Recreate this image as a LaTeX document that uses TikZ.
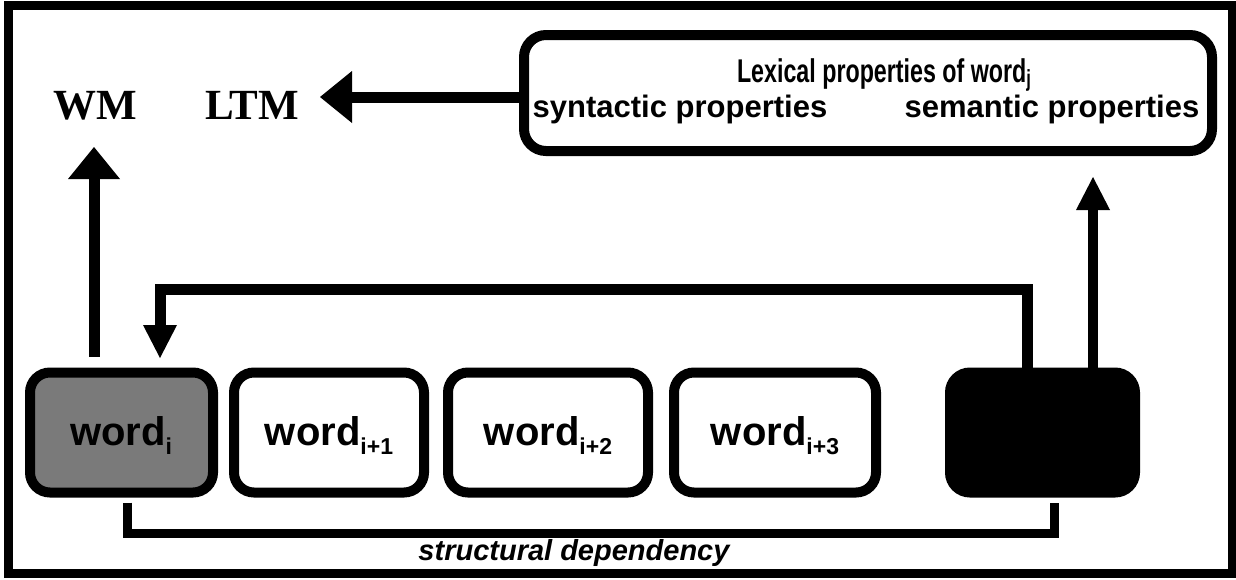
\documentclass[tikz,border=0pt]{standalone}
\usepackage{fontspec}
\usepackage{graphicx}
\setmainfont{Liberation Serif}
\setsansfont{Liberation Sans}
\usetikzlibrary{arrows.meta}
% lowered index set in a smaller size
\newcommand{\idx}[3]{\raisebox{-#2}{\fontsize{#3}{#3}\selectfont #1}}
\begin{document}
\begin{tikzpicture}[x=1pt,y=-1pt,
  frame/.style={line width=9pt},
  wordbox/.style={draw, line width=10pt, rounded corners=20pt,
    minimum height=120pt, inner sep=0pt},
  wordtext/.style={font=\sffamily\bfseries\fontsize{40}{40}\selectfont,
    anchor=base, inner sep=0pt},
  lextext/.style={font=\sffamily\bfseries\fontsize{31}{31}\selectfont,
    anchor=base, inner sep=0pt},
  memtext/.style={font=\rmfamily\bfseries\fontsize{43}{43}\selectfont,
    anchor=base, inner sep=0pt},
  shaft/.style={line width=11pt, line join=miter},
  bigtip/.style={-{Triangle[length=32pt,width=52pt,line width=0pt]}},
  smalltip/.style={-{Triangle[length=33pt,width=34pt,line width=0pt]}},
  bracket/.style={line width=9pt, line join=miter}]

\useasboundingbox (0,0) rectangle (1236,579);
\draw[frame] (8,5) rectangle (1232,573);

% memory stores
\node[memtext] (wm) at (95,119) {WM};
\node[memtext] (ltm) at (252,119) {LTM};

% lexical entry
\node[draw, line width=10pt, rounded corners=22pt, minimum width=688pt,
  minimum height=116pt, inner sep=0pt] (lex) at (868,93) {};
\node[lextext] (lexhead) at (884,82)
  {\scalebox{0.75}[1.06]{Lexical properties of word\idx{j}{4pt}{22}}};
\node[lextext] (syn) at (680,117) {syntactic properties};
\node[lextext] (sem) at (1052,117) {semantic properties};

% word sequence
\node[wordbox, fill=black!52, minimum width=183pt] (w0) at (121.5,432.5) {};
\node[wordbox, minimum width=190pt] (w1) at (329,432.5) {};
\node[wordbox, minimum width=200pt] (w2) at (548,432.5) {};
\node[wordbox, minimum width=202pt] (w3) at (775,432.5) {};
\node[wordbox, fill=black, minimum width=185pt] (blk) at (1042.5,432.5) {};
\node[wordtext] (t0) at (121,445) {word\idx{i}{9pt}{23}};
\node[wordtext] (t1) at (329,445) {word\idx{i+1}{9pt}{23}};
\node[wordtext] (t2) at (548,445) {word\idx{i+2}{9pt}{23}};
\node[wordtext] (t3) at (775,445) {word\idx{i+3}{9pt}{23}};

% connectors
\coordinate (ltmtip) at (320,97);
\draw[shaft, bigtip] (lex.west |- ltmtip) -- (ltmtip);

\coordinate (wmtip) at (94,147);
\draw[shaft, bigtip, shorten <=11pt] (w0.north -| wmtip) -- (wmtip);

\coordinate (lextip) at (1093,177);
\draw[shaft, smalltip, line width=10pt] (blk.north -| lextip) -- (lextip);

\coordinate (fbr) at (1027,289);
\coordinate (fbl) at (160,289);
\coordinate (fbtip) at (160,358);
\draw[shaft, smalltip] (blk.north -| fbr) -- (fbr) -- (fbl) -- (fbtip);

\coordinate (brl) at (127,533);
\coordinate (brr) at (1054,533);
\draw[bracket, shorten <=5pt, shorten >=5pt]
  (w0.south -| brl) -- (brl) -- (brr) -- (blk.south -| brr);
\node[font=\sffamily\bfseries\itshape\fontsize{29}{29}\selectfont,
  anchor=base, inner sep=0pt] (dep) at (574,560) {structural dependency};
\end{tikzpicture}
\end{document}
